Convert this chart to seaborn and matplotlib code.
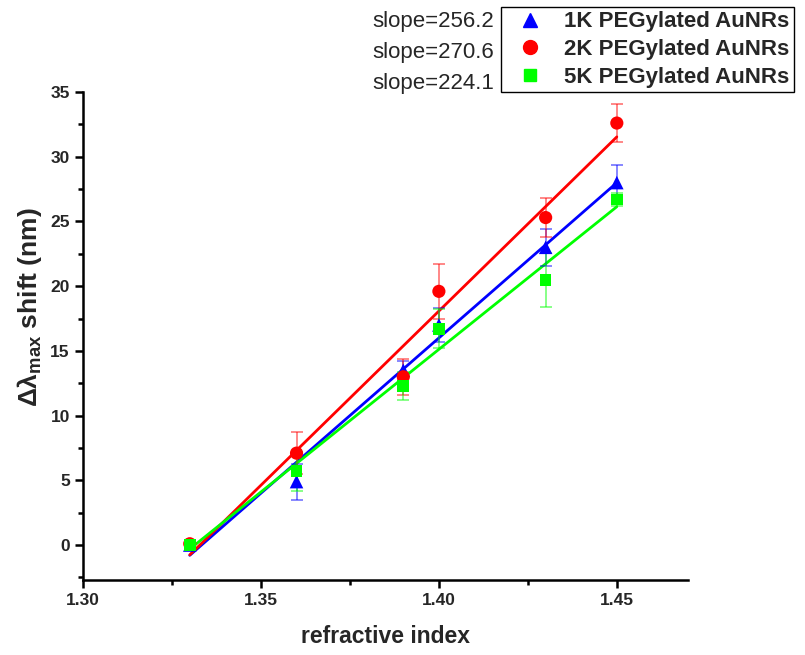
import numpy as np
import pandas as pd
import matplotlib
matplotlib.use("Agg")
import matplotlib.pyplot as plt
from matplotlib.lines import Line2D
from matplotlib.ticker import MultipleLocator
import seaborn as sns

sns.set_style("ticks")
plt.rcParams['font.family'] = ['Liberation Sans', 'DejaVu Sans']
plt.rcParams['mathtext.fontset'] = 'custom'
plt.rcParams['mathtext.rm'] = 'Liberation Sans'

# ---- data ----
refractive_index = [1.33, 1.36, 1.39, 1.40, 1.43, 1.45]
shift_1k = [0.0, 4.9, 13.5, 17.0, 23.0, 28.0]
err_1k = [0.3, 1.4, 0.7, 1.3, 1.45, 1.35]
shift_2k = [0.1, 7.1, 13.0, 19.6, 25.3, 32.6]
err_2k = [0.3, 1.6, 1.4, 2.1, 1.5, 1.5]
shift_5k = [0.0, 5.7, 12.3, 16.7, 20.5, 26.7]
err_5k = [0.3, 1.5, 1.1, 1.5, 2.1, 0.5]
labels = ["1K PEGylated AuNRs", "2K PEGylated AuNRs", "5K PEGylated AuNRs"]
slope_texts = ["slope=256.2", "slope=270.6", "slope=224.1"]
colors = ["#0000FF", "#FF0000", "#00FF00"]
markers = ["^", "o", "s"]

series = [(shift_1k, err_1k), (shift_2k, err_2k), (shift_5k, err_5k)]

fig = plt.figure(figsize=(8.05, 6.55), dpi=100)
ax = fig.add_axes([83/805, 1-580/655, (688-83)/805, (580-92)/655])

# fit lines
for (ys, es), c in zip(series, colors):
    df = pd.DataFrame({"x": refractive_index, "y": ys})
    sns.regplot(data=df, x="x", y="y", ax=ax, scatter=False, ci=None,
                truncate=True, color=c, line_kws=dict(lw=2, zorder=2))

# error bars
for (ys, es), c in zip(series, colors):
    ax.errorbar(refractive_index, ys, yerr=es, fmt="none", ecolor=c,
                elinewidth=1.2, capsize=4, capthick=1.2, alpha=0.55, zorder=3)

# markers
sizes = [95, 90, 70]
for (ys, es), c, m, s, lab in zip(series, colors, markers, sizes, labels):
    df = pd.DataFrame({"x": refractive_index, "y": ys})
    sns.scatterplot(data=df, x="x", y="y", ax=ax, color=c, marker=m, s=s,
                    edgecolor="none", zorder=4, legend=False)

ax.set_xlim(1.30, 1.47)
ax.set_ylim(-2.7, 35)
ax.xaxis.set_major_locator(MultipleLocator(0.05))
ax.xaxis.set_minor_locator(MultipleLocator(0.025))
ax.yaxis.set_major_locator(MultipleLocator(5))
ax.yaxis.set_minor_locator(MultipleLocator(2.5))
ax.set_xticks([1.30, 1.35, 1.40, 1.45])
ax.set_xticklabels(["1.30", "1.35", "1.40", "1.45"])
for sp in ["top", "right"]:
    ax.spines[sp].set_visible(False)
for sp in ["left", "bottom"]:
    ax.spines[sp].set_linewidth(1.8)
    ax.spines[sp].set_color("black")
ax.tick_params(which="major", direction="out", length=6, width=1.8,
               labelsize=12.5, color="black")
ax.tick_params(which="minor", direction="out", length=3.5, width=1.8, color="black")
for t in ax.get_xticklabels() + ax.get_yticklabels():
    t.set_fontweight("bold")

ax.set_xlabel("refractive index", fontsize=16.5, fontweight="bold", labelpad=12)
ax.set_ylabel(r"Δλ$_{\mathregular{max}}$ shift (nm)", fontsize=19,
              fontweight="bold")
ax.yaxis.set_label_coords(-0.064, 0.56)

handles = [Line2D([], [], color=c, marker=m, linestyle="none", markersize=ms)
           for c, m, ms in zip(colors, markers, [10, 10, 8])]
leg = fig.legend(handles, labels, loc="upper left",
                 bbox_to_anchor=(501/805, 1-7/655), bbox_transform=fig.transFigure,
                 frameon=True, fancybox=False, edgecolor="black", framealpha=1,
                 prop=dict(size=16, weight="bold"), borderpad=0.2,
                 handlelength=2.2, handletextpad=0.45, labelspacing=0.3,
                 borderaxespad=0, numpoints=1)
leg.get_frame().set_linewidth(1.0)

for i, txt in enumerate(slope_texts):
    fig.text(494/805, 1-(22+30.5*i)/655, txt, ha="right", va="center", fontsize=16)

fig.savefig("out.png", dpi=100)
